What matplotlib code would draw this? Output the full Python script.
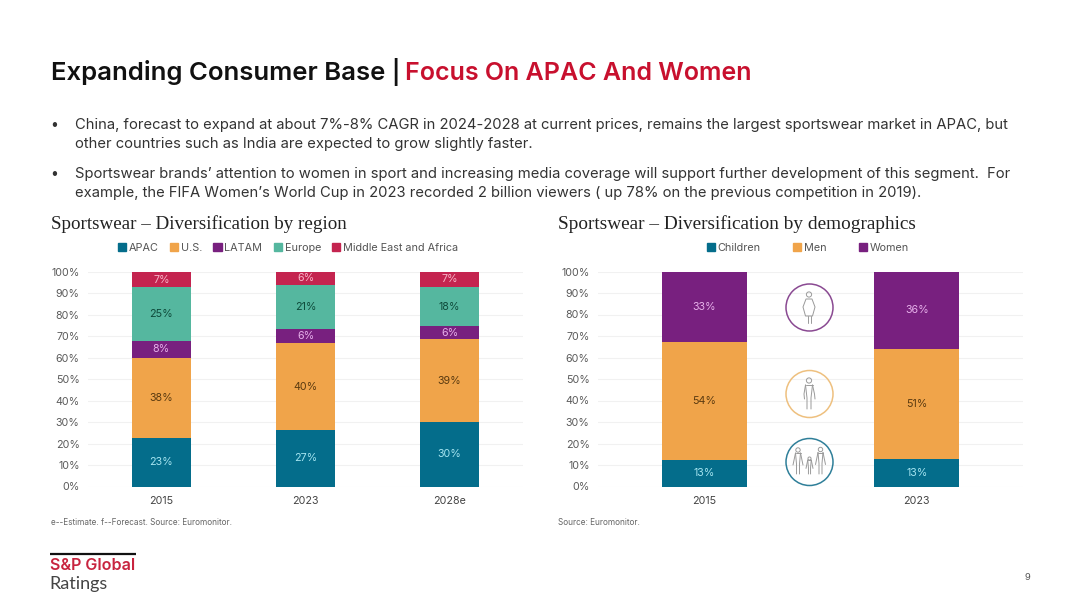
import matplotlib
matplotlib.use("Agg")
import matplotlib.pyplot as plt
from matplotlib.patches import Circle, Polygon
from matplotlib.patches import Patch
import numpy as np

W, H = 1080, 608
TEAL, ORANGE, PURPLE, GREEN, RED = "#046d8b", "#f0a44a", "#78207f", "#55b79f", "#c4244f"

# Left chart
region_years = ["2015", "2023", "2028e"]
region_names = ["APAC", "U.S.", "LATAM", "Europe", "Middle East and Africa"]
apac = [22.5, 26.4, 30.2]
us = [37.5, 40.3, 38.4]
latam = [8.0, 6.6, 6.0]
europe = [24.8, 20.8, 18.6]
mea = [7.2, 5.9, 6.8]
apac_lbl = ["23%", "27%", "30%"]
us_lbl = ["38%", "40%", "39%"]
latam_lbl = ["8%", "6%", "6%"]
europe_lbl = ["25%", "21%", "18%"]
mea_lbl = ["7%", "6%", "7%"]

# Right chart
demo_years = ["2015", "2023"]
demo_names = ["Children", "Men", "Women"]
children = [12.4, 12.6]
men = [54.6, 51.4]
women = [33.0, 36.0]
children_lbl = ["13%", "13%"]
men_lbl = ["54%", "51%"]
women_lbl = ["33%", "36%"]

yticks = list(range(0, 101, 10))
BODY = "Inter"
plt.rcParams["font.family"] = [BODY, "DejaVu Sans"]

fig = plt.figure(figsize=(W / 100, H / 100), dpi=100, facecolor="white")

def make_axes(x0, x1, ytop, ybot):
    return fig.add_axes([x0 / W, 1 - ybot / H, (x1 - x0) / W, (ybot - ytop) / H])

def stacked(ax, cats, series, width, xlim):
    x = np.arange(len(cats))
    bottom = np.zeros(len(cats))
    for vals, labels, col, tcol in series:
        vals = np.array(vals)
        ax.bar(x, vals, width, bottom=bottom, color=col, zorder=3)
        for xi, b, v, l in zip(x, bottom, vals, labels):
            ax.text(xi, b + v / 2, l, ha="center", va="center", fontsize=7.7, color=tcol, zorder=4)
        bottom = bottom + vals
    ax.set_xlim(*xlim)
    ax.set_ylim(0, 100)
    ax.set_yticks(yticks)
    ax.set_yticklabels([f"{t}%" for t in yticks], fontsize=7.7, color="#5a5a5a")
    ax.set_xticks(x)
    ax.set_xticklabels(cats, fontsize=7.7, color="#444444")
    ax.tick_params(length=0)
    ax.tick_params(axis="y", pad=6)
    ax.tick_params(axis="x", pad=6.5)
    ax.grid(axis="y", color="#f1f1f1", lw=0.8, zorder=0)
    ax.set_axisbelow(True)
    for s in ax.spines.values():
        s.set_visible(False)

ax1 = make_axes(88, 523, 272, 486.5)
stacked(ax1, region_years, [
    (apac, apac_lbl, TEAL, "#a5e4f0"),
    (us, us_lbl, ORANGE, "#5a3a10"),
    (latam, latam_lbl, PURPLE, "#e6b0ea"),
    (europe, europe_lbl, GREEN, "#0e4a3a"),
    (mea, mea_lbl, RED, "#f7b5c8"),
], 0.41, (-0.51, 2.51))

ax2 = make_axes(598, 1023, 271.5, 486.5)
stacked(ax2, demo_years, [
    (children, children_lbl, TEAL, "#a5e4f0"),
    (men, men_lbl, ORANGE, "#5a3a10"),
    (women, women_lbl, PURPLE, "#e6b0ea"),
], 0.4, (-0.5, 1.5))

def legend(names, cols, cx, spacing):
    hs = [Patch(color=c, label=n) for n, c in zip(names, cols)]
    fig.legend(handles=hs, loc="center", bbox_to_anchor=(cx / W, 1 - 248 / H), ncol=len(names),
               frameon=False, fontsize=7.8, handlelength=0.75, handleheight=0.75,
               handletextpad=0.25, columnspacing=spacing, labelcolor="#555555",
               borderpad=0, borderaxespad=0)

legend(region_names, [TEAL, ORANGE, PURPLE, GREEN, RED], 288, 1.05)
legend(demo_names, [TEAL, ORANGE, PURPLE], 808, 3.0)

# Overlay in pixel coordinates for slide furniture
ov = fig.add_axes([0, 0, 1, 1], facecolor="none", zorder=10)
ov.set_xlim(0, W)
ov.set_ylim(H, 0)
ov.axis("off")

ov.text(51, 80, "Expanding Consumer Base", fontsize=18.5, fontweight="semibold",
        color="#111111", va="baseline", ha="left")
ov.text(391.5, 80, "|", fontsize=16.5, fontweight="semibold",
        color="#111111", va="baseline", ha="left")
ov.text(405, 80, "Focus On APAC And Women", fontsize=18, fontweight="semibold",
        color="#c8102e", va="baseline", ha="left")

body = [
    (125, "China, forecast to expand at about 7%-8% CAGR in 2024-2028 at current prices, remains the largest sportswear market in APAC, but"),
    (144, "other countries such as India are expected to grow slightly faster."),
    (174, "Sportswear brands\u2019 attention to women in sport and increasing media coverage will support further development of this segment.  For"),
    (193, "example, the FIFA Women\u2019s World Cup in 2023 recorded 2 billion viewers ( up 78% on the previous competition in 2019)."),
]
for y, t in body:
    ov.text(75, y, t, fontsize=10.65, color="#333333", va="center", ha="left")
for y in (125, 174):
    ov.text(50, y, "\u2022", fontsize=10, color="#333333", va="center", ha="left")

ov.text(51, 224.5, "Sportswear \u2013 Diversification by region", fontsize=13.7, family="Liberation Serif",
        color="#222222", va="center", ha="left")
ov.text(558, 224.5, "Sportswear \u2013 Diversification by demographics", fontsize=13.85, family="Liberation Serif",
        color="#222222", va="center", ha="left")

ov.text(51, 522.5, "e--Estimate. f--Forecast. Source: Euromonitor.", fontsize=5.9, color="#666666", va="center")
ov.text(558, 522.5, "Source: Euromonitor.", fontsize=5.9, color="#666666", va="center")

# Logo
ov.plot([50, 135.5], [553.5, 553.5], color="#111111", lw=1.6, solid_capstyle="butt")
ov.text(50, 565.5, "S&P Global", fontsize=11.6, fontweight="semibold", color="#c8243f", va="center")
ov.text(49.5, 584, "Ratings", fontsize=13, color="#444444", va="center", family="Lato")
ov.text(1027, 577, "9", fontsize=6.8, color="#555555", ha="center", va="center")

# Icons
ICON = "#9a9a9a"
def ic(xs, ys, lw=0.7):
    ov.plot(xs, ys, color=ICON, lw=lw, solid_capstyle="round")

def head(x, y, r=2.6):
    ov.add_patch(Circle((x, y), r, fill=False, ec=ICON, lw=0.7))

ov.add_patch(Circle((809.5, 307.5), 23.5, fill=False, ec="#8a4a92", lw=1.1))
ov.add_patch(Circle((809.5, 394), 23.5, fill=False, ec="#eec07f", lw=1.1))
ov.add_patch(Circle((809.5, 462), 23.5, fill=False, ec="#2f7f99", lw=1.1))

# woman
head(809, 294.5)
ov.add_patch(Polygon([(806, 299), (812, 299), (815, 307), (812.5, 316), (805.5, 316), (803, 307)],
                     fill=False, ec=ICON, lw=0.7))
ic([807.5, 807.5], [316, 323]); ic([810.5, 810.5], [316, 323])
# man
head(809, 380.5)
ic([805.5, 804, 804.5], [385, 394, 399]); ic([812.5, 814.5, 815], [385, 394, 399])
ic([805.5, 807, 807], [385, 398, 409]); ic([812.5, 811, 811], [385, 398, 409])
ic([805.5, 812.5], [385, 385])
# family
for cx, top, bot, s in [(798, 452, 474, 1.0), (820.5, 451.5, 474, 1.0), (809.5, 459, 474, 0.7)]:
    head(cx, top - 5 * s + 3, 2.2 * s)
    y0 = top + 1
    ic([cx - 2.5 * s, cx - 5 * s], [y0, y0 + 12 * s]); ic([cx + 2.5 * s, cx + 5 * s], [y0, y0 + 12 * s])
    ic([cx - 2.5 * s, cx - 1.5 * s, cx - 1.5 * s], [y0, y0 + 11 * s, bot])
    ic([cx + 2.5 * s, cx + 1.5 * s, cx + 1.5 * s], [y0, y0 + 11 * s, bot])
    ic([cx - 2.5 * s, cx + 2.5 * s], [y0, y0])

fig.savefig("out.png", dpi=100, facecolor="white")
